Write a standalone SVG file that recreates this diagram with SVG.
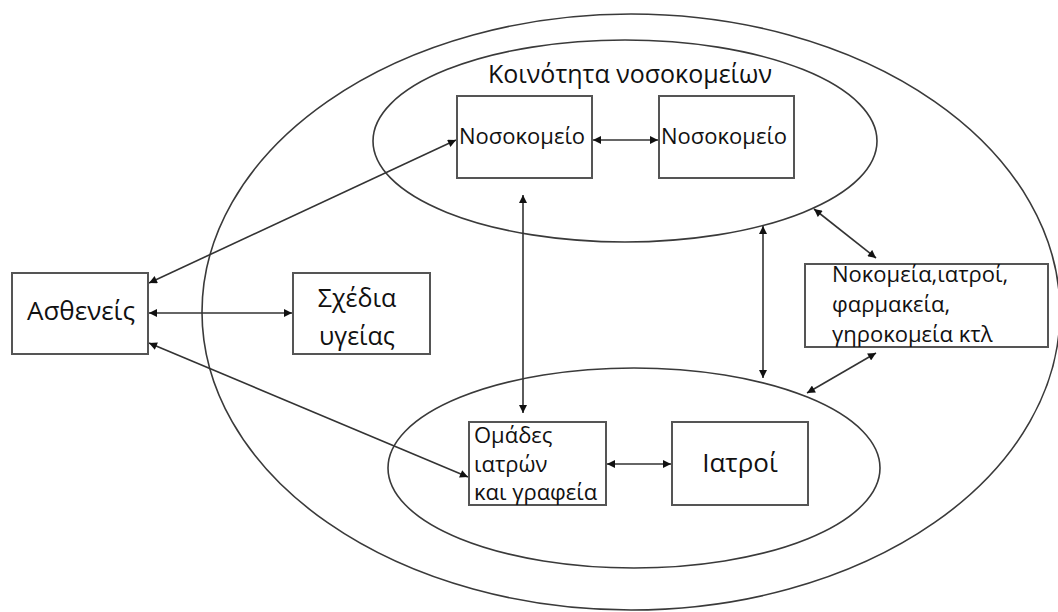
<svg xmlns="http://www.w3.org/2000/svg" width="1058" height="612" viewBox="0 0 1058 612">
  <style>
    .ring { fill: none; stroke: #3a3a3a; stroke-width: 1.6; }
    .box { fill: #ffffff; stroke: #555555; stroke-width: 2; }
    .lbl { font-family: "Open Sans", "Noto Sans", "DejaVu Sans", sans-serif; fill: #111111; }
    .link { fill: none; stroke: #333333; stroke-width: 1.6; }
  </style>
  <defs>
    <marker id="tip" viewBox="0 0 10 10" refX="10" refY="5" markerWidth="9" markerHeight="8" markerUnits="userSpaceOnUse" orient="auto-start-reverse">
      <path d="M0,0 L10,5 L0,10 Z" fill="#111111"/>
    </marker>
  </defs>
  <rect width="1058" height="612" fill="#ffffff"/>

  <!-- outer region and the two communities -->
  <g id="outer-region">
    <ellipse class="ring" cx="631" cy="312" rx="429" ry="298"/>
  </g>
  <g id="hospital-community">
    <ellipse class="ring" cx="625" cy="141" rx="252" ry="101"/>
    <text class="lbl" x="630" y="83" font-size="25" text-anchor="middle">Κοινότητα νοσοκομείων</text>
  </g>
  <g id="doctor-community">
    <ellipse class="ring" cx="634" cy="468" rx="246" ry="100"/>
  </g>

  <!-- connectors -->
  <g id="connectors">
    <line class="link" x1="149" y1="283" x2="456" y2="140" marker-start="url(#tip)" marker-end="url(#tip)"/>
    <line class="link" x1="149" y1="313" x2="292" y2="313" marker-start="url(#tip)" marker-end="url(#tip)"/>
    <line class="link" x1="149" y1="343" x2="468" y2="477" marker-start="url(#tip)" marker-end="url(#tip)"/>
    <line class="link" x1="593" y1="140" x2="658" y2="140" marker-start="url(#tip)" marker-end="url(#tip)"/>
    <line class="link" x1="523" y1="195" x2="523" y2="413" marker-start="url(#tip)" marker-end="url(#tip)"/>
    <line class="link" x1="763" y1="226" x2="763" y2="378" marker-start="url(#tip)" marker-end="url(#tip)"/>
    <line class="link" x1="814" y1="209" x2="876" y2="258" marker-start="url(#tip)" marker-end="url(#tip)"/>
    <line class="link" x1="876" y1="353" x2="807" y2="393" marker-start="url(#tip)" marker-end="url(#tip)"/>
    <line class="link" x1="607" y1="464" x2="671" y2="464" marker-start="url(#tip)" marker-end="url(#tip)"/>
  </g>

  <g id="patients">
    <rect class="box" x="12" y="273" width="136" height="81"/>
    <text class="lbl" x="81" y="320" font-size="26" text-anchor="middle">Ασθενείς</text>
  </g>
  <g id="health-plans">
    <rect class="box" x="293" y="273" width="137" height="81"/>
    <text class="lbl" x="357" y="307" font-size="25" text-anchor="middle">Σχέδια</text>
    <text class="lbl" x="357" y="345" font-size="25" text-anchor="middle">υγείας</text>
  </g>
  <g id="hospital-a">
    <rect class="box" x="457" y="96" width="135" height="82"/>
    <text class="lbl" x="459" y="144" font-size="22">Νοσοκομείο</text>
  </g>
  <g id="hospital-b">
    <rect class="box" x="659" y="96" width="135" height="82"/>
    <text class="lbl" x="661" y="144" font-size="22">Νοσοκομείο</text>
  </g>
  <g id="doctor-groups">
    <rect class="box" x="469" y="422" width="137" height="83"/>
    <text class="lbl" x="474" y="443" font-size="22">Ομάδες</text>
    <text class="lbl" x="474" y="472" font-size="22">ιατρών</text>
    <text class="lbl" x="474" y="500" font-size="22">και γραφεία</text>
  </g>
  <g id="doctors">
    <rect class="box" x="672" y="422" width="136" height="83"/>
    <text class="lbl" x="740" y="472" font-size="26" text-anchor="middle">Ιατροί</text>
  </g>
  <g id="other-providers">
    <rect class="box" x="805" y="264" width="243" height="83"/>
    <text class="lbl" x="832" y="282" font-size="22">Νοκομεία,ιατροί,</text>
    <text class="lbl" x="832" y="312" font-size="22">φαρμακεία,</text>
    <text class="lbl" x="832" y="342" font-size="22">γηροκομεία κτλ</text>
  </g>
</svg>
